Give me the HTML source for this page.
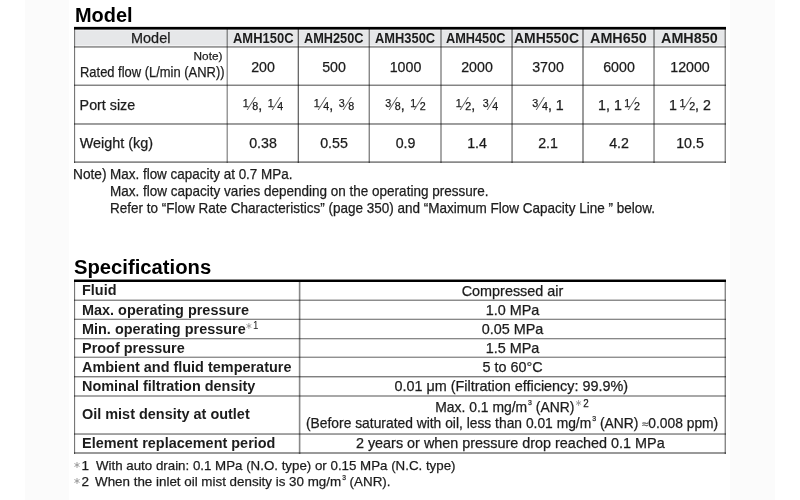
<!DOCTYPE html><html><head><meta charset="utf-8"><style>
*{margin:0;padding:0;box-sizing:border-box}
html,body{width:800px;height:500px;overflow:hidden;background:#fff}
body{position:relative;font-family:"Liberation Sans",sans-serif;color:#1c1c1c;-webkit-text-stroke:0.25px #1c1c1c}
.x{position:absolute;white-space:nowrap;line-height:1}
.b{font-weight:bold;-webkit-text-stroke:0}
.r{position:absolute}
.m{mix-blend-mode:multiply}
.fn{font-size:10.7px;position:relative;top:-3.2px}
.fs{display:inline-block;width:1px;height:12.5px;margin:0 4.7px 0 -2px;background:#555;transform:skewX(-32deg);transform-origin:0 100%}
.fd{font-size:10.7px}
.sp{font-size:10px;position:relative;top:-5px;color:#222;font-weight:normal;margin-left:1.5px}
.sp .ast{margin-right:1.5px;vertical-align:0.5px}
.s3{font-size:0.5em;position:relative;top:-0.95em;margin-left:1px}
.deg{color:#444}
.approx{font-size:0.8em;color:#777}
.ast{display:inline-block}
.fnum .ast{vertical-align:1.8px;margin-right:1px}
</style></head><body>
<div class="r" style="left:25px;top:0;width:44px;height:500px;background:#fbfbfb"></div>
<div class="r" style="left:730px;top:0;width:45px;height:500px;background:#fbfbfb"></div>
<div class="r" style="left:74px;top:29px;width:652px;height:134px;background:#fff"></div>
<div class="r m" style="left:75px;top:29px;width:650px;height:1px;background:#f0f0f0"></div>
<div class="r m" style="left:75px;top:31px;width:650px;height:14px;background:#e6e7e9"></div>
<div class="r m" style="left:75px;top:30px;width:650px;height:1px;background:#eeeef0"></div>
<div class="r m" style="left:75px;top:45px;width:650px;height:1px;background:#f2f2f3"></div>
<div class="r m" style="left:74px;top:46px;width:652px;height:1px;background:#9a9a9a"></div>
<div class="r m" style="left:74px;top:47px;width:652px;height:1px;background:#acacac"></div>
<div class="r m" style="left:74px;top:84px;width:652px;height:1px;background:#c4c4c4"></div>
<div class="r m" style="left:74px;top:85px;width:652px;height:1px;background:#848484"></div>
<div class="r m" style="left:74px;top:123px;width:652px;height:1px;background:#9c9c9c"></div>
<div class="r m" style="left:74px;top:124px;width:652px;height:1px;background:#a0a0a0"></div>
<div class="r m" style="left:74px;top:161px;width:652px;height:1px;background:#a8a8a8"></div>
<div class="r m" style="left:74px;top:162px;width:652px;height:1px;background:#8a8a8a"></div>
<div class="r m" style="left:74px;top:29px;width:1px;height:134px;background:#777777"></div>
<div class="r m" style="left:75px;top:29px;width:1px;height:134px;background:#eeeeee"></div>
<div class="r m" style="left:226px;top:29px;width:1px;height:134px;background:#cccccc"></div>
<div class="r m" style="left:227px;top:29px;width:1px;height:134px;background:#999999"></div>
<div class="r m" style="left:297px;top:29px;width:1px;height:134px;background:#cccccc"></div>
<div class="r m" style="left:298px;top:29px;width:1px;height:134px;background:#6a6a6a"></div>
<div class="r m" style="left:368px;top:29px;width:1px;height:134px;background:#cccccc"></div>
<div class="r m" style="left:369px;top:29px;width:1px;height:134px;background:#888888"></div>
<div class="r m" style="left:440px;top:29px;width:1px;height:134px;background:#a8a8a8"></div>
<div class="r m" style="left:441px;top:29px;width:1px;height:134px;background:#a8a8a8"></div>
<div class="r m" style="left:511px;top:29px;width:1px;height:134px;background:#aaaaaa"></div>
<div class="r m" style="left:512px;top:29px;width:1px;height:134px;background:#999999"></div>
<div class="r m" style="left:582px;top:29px;width:1px;height:134px;background:#9c9c9c"></div>
<div class="r m" style="left:583px;top:29px;width:1px;height:134px;background:#9c9c9c"></div>
<div class="r m" style="left:653px;top:29px;width:1px;height:134px;background:#a8a8a8"></div>
<div class="r m" style="left:654px;top:29px;width:1px;height:134px;background:#a0a0a0"></div>
<div class="r m" style="left:724px;top:29px;width:1px;height:134px;background:#cccccc"></div>
<div class="r m" style="left:725px;top:29px;width:1px;height:134px;background:#888888"></div>
<div class="r m" style="left:74px;top:26px;width:652px;height:1px;background:#e0e0e0"></div>
<div class="r m" style="left:74px;top:27px;width:652px;height:2px;background:#000"></div>
<div class="r m" style="left:74px;top:29px;width:652px;height:1px;background:#6a6a6a"></div>
<div class="r" style="left:74px;top:282px;width:652px;height:172px;background:#fff"></div>
<div class="r m" style="left:74px;top:299px;width:652px;height:1px;background:#c8c8c8"></div>
<div class="r m" style="left:74px;top:300px;width:652px;height:1px;background:#8c8c8c"></div>
<div class="r m" style="left:74px;top:318px;width:652px;height:1px;background:#d8d8d8"></div>
<div class="r m" style="left:74px;top:319px;width:652px;height:1px;background:#888888"></div>
<div class="r m" style="left:74px;top:338px;width:652px;height:1px;background:#888888"></div>
<div class="r m" style="left:74px;top:339px;width:652px;height:1px;background:#d8d8d8"></div>
<div class="r m" style="left:74px;top:356px;width:652px;height:1px;background:#d0d0d0"></div>
<div class="r m" style="left:74px;top:357px;width:652px;height:1px;background:#909090"></div>
<div class="r m" style="left:74px;top:376px;width:652px;height:1px;background:#808080"></div>
<div class="r m" style="left:74px;top:377px;width:652px;height:1px;background:#c8c8c8"></div>
<div class="r m" style="left:74px;top:395px;width:652px;height:1px;background:#a8a8a8"></div>
<div class="r m" style="left:74px;top:396px;width:652px;height:1px;background:#a8a8a8"></div>
<div class="r m" style="left:74px;top:433px;width:652px;height:1px;background:#a8a8a8"></div>
<div class="r m" style="left:74px;top:434px;width:652px;height:1px;background:#a0a0a0"></div>
<div class="r m" style="left:74px;top:452px;width:652px;height:1px;background:#999999"></div>
<div class="r m" style="left:74px;top:453px;width:652px;height:1px;background:#999999"></div>
<div class="r m" style="left:74px;top:282px;width:1px;height:172px;background:#777777"></div>
<div class="r m" style="left:75px;top:282px;width:1px;height:172px;background:#eeeeee"></div>
<div class="r m" style="left:298px;top:282px;width:1px;height:172px;background:#e8e8e8"></div>
<div class="r m" style="left:299px;top:282px;width:1px;height:172px;background:#888888"></div>
<div class="r m" style="left:300px;top:282px;width:1px;height:172px;background:#cccccc"></div>
<div class="r m" style="left:724px;top:282px;width:1px;height:172px;background:#cccccc"></div>
<div class="r m" style="left:725px;top:282px;width:1px;height:172px;background:#888888"></div>
<div class="r m" style="left:74px;top:279px;width:652px;height:1px;background:#888888"></div>
<div class="r m" style="left:74px;top:280px;width:652px;height:2px;background:#000"></div>
<div class="x b" id="e0" style="top:5.60px;font-size:19.6px;color:#000;left:74.60px;transform:scaleX(1.0175);transform-origin:0 0;">Model</div>
<div class="x b" id="e1" style="top:257.50px;font-size:19.6px;color:#000;left:74.20px;transform:scaleX(1.0328);transform-origin:0 0;">Specifications</div>
<div class="x" id="e2" style="top:30.55px;font-size:14.5px;left:130.60px;transform:scaleX(0.9975);transform-origin:0 0;">Model</div>
<div class="x b" id="e3" style="top:30.55px;font-size:14.3px;left:233.00px;transform:scaleX(0.9064);transform-origin:0 0;">AMH150C</div>
<div class="x b" id="e4" style="top:30.55px;font-size:14.3px;left:304.30px;transform:scaleX(0.8914);transform-origin:0 0;">AMH250C</div>
<div class="x b" id="e5" style="top:30.55px;font-size:14.3px;left:375.00px;transform:scaleX(0.9004);transform-origin:0 0;">AMH350C</div>
<div class="x b" id="e6" style="top:30.55px;font-size:14.3px;left:446.30px;transform:scaleX(0.8914);transform-origin:0 0;">AMH450C</div>
<div class="x b" id="e7" style="top:30.55px;font-size:14.3px;left:514.40px;transform:scaleX(0.9753);transform-origin:0 0;">AMH550C</div>
<div class="x b" id="e8" style="top:30.55px;font-size:14.3px;left:589.50px;transform:scaleX(1.0049);transform-origin:0 0;">AMH650</div>
<div class="x b" id="e9" style="top:30.55px;font-size:14.3px;left:660.80px;transform:scaleX(1.0049);transform-origin:0 0;">AMH850</div>
<div class="x" id="e10" style="top:50.70px;font-size:11.8px;right:577.60px;">Note)</div>
<div class="x" id="e11" style="top:65.40px;font-size:14.2px;left:79.50px;transform:scaleX(0.9119);transform-origin:0 0;">Rated flow (L/min (ANR))</div>
<div class="x" id="e12" style="top:59.60px;font-size:14.2px;left:63.00px;width:400px;text-align:center;">200</div>
<div class="x" id="e13" style="top:59.60px;font-size:14.2px;left:134.00px;width:400px;text-align:center;">500</div>
<div class="x" id="e14" style="top:59.60px;font-size:14.2px;left:205.50px;width:400px;text-align:center;">1000</div>
<div class="x" id="e15" style="top:59.60px;font-size:14.2px;left:277.00px;width:400px;text-align:center;">2000</div>
<div class="x" id="e16" style="top:59.60px;font-size:14.2px;left:348.00px;width:400px;text-align:center;">3700</div>
<div class="x" id="e17" style="top:59.60px;font-size:14.2px;left:419.00px;width:400px;text-align:center;">6000</div>
<div class="x" id="e18" style="top:59.60px;font-size:14.2px;left:490.00px;width:400px;text-align:center;">12000</div>
<div class="x" id="e19" style="top:97.65px;font-size:14.3px;left:79.60px;">Port size</div>
<div class="x" id="e20" style="top:97.30px;font-size:14.2px;left:63.00px;width:400px;text-align:center;"><span class="fn">1</span><span class="fs"></span><span class="fd">8</span>, <span class="fn" style="margin-left:1.5px">1</span><span class="fs"></span><span class="fd">4</span></div>
<div class="x" id="e21" style="top:97.30px;font-size:14.2px;left:134.00px;width:400px;text-align:center;"><span class="fn">1</span><span class="fs"></span><span class="fd">4</span>, <span class="fn" style="margin-left:1.5px">3</span><span class="fs"></span><span class="fd">8</span></div>
<div class="x" id="e22" style="top:97.30px;font-size:14.2px;left:205.50px;width:400px;text-align:center;"><span class="fn">3</span><span class="fs"></span><span class="fd">8</span>, <span class="fn" style="margin-left:1.5px">1</span><span class="fs"></span><span class="fd">2</span></div>
<div class="x" id="e23" style="top:97.30px;font-size:14.2px;left:277.00px;width:400px;text-align:center;"><span class="fn">1</span><span class="fs"></span><span class="fd">2</span>, <span class="fn" style="margin-left:3.5px">3</span><span class="fs"></span><span class="fd">4</span></div>
<div class="x" id="e24" style="top:97.30px;font-size:14.2px;left:348.00px;width:400px;text-align:center;"><span class="fn">3</span><span class="fs"></span><span class="fd">4</span>, 1</div>
<div class="x" id="e25" style="top:97.30px;font-size:14.2px;left:419.00px;width:400px;text-align:center;">1, 1<span class="fn" style="margin-left:2.5px">1</span><span class="fs"></span><span class="fd">2</span></div>
<div class="x" id="e26" style="top:97.30px;font-size:14.2px;left:490.00px;width:400px;text-align:center;">1<span class="fn" style="margin-left:2.5px">1</span><span class="fs"></span><span class="fd">2</span>, 2</div>
<div class="x" id="e27" style="top:135.90px;font-size:14.4px;left:79.80px;">Weight (kg)</div>
<div class="x" id="e28" style="top:136.30px;font-size:14.2px;left:63.00px;width:400px;text-align:center;">0.38</div>
<div class="x" id="e29" style="top:136.30px;font-size:14.2px;left:134.00px;width:400px;text-align:center;">0.55</div>
<div class="x" id="e30" style="top:136.30px;font-size:14.2px;left:205.50px;width:400px;text-align:center;">0.9</div>
<div class="x" id="e31" style="top:136.30px;font-size:14.2px;left:277.00px;width:400px;text-align:center;">1.4</div>
<div class="x" id="e32" style="top:136.30px;font-size:14.2px;left:348.00px;width:400px;text-align:center;">2.1</div>
<div class="x" id="e33" style="top:136.30px;font-size:14.2px;left:419.00px;width:400px;text-align:center;">4.2</div>
<div class="x" id="e34" style="top:136.30px;font-size:14.2px;left:490.00px;width:400px;text-align:center;">10.5</div>
<div class="x" id="e35" style="top:167.00px;font-size:14.2px;left:72.80px;transform:scaleX(0.9653);transform-origin:0 0;">Note)</div>
<div class="x" id="e36" style="top:167.00px;font-size:14.2px;left:109.50px;transform:scaleX(0.9485);transform-origin:0 0;">Max. flow capacity at 0.7 MPa.</div>
<div class="x" id="e37" style="top:184.20px;font-size:14.2px;left:109.50px;transform:scaleX(0.9522);transform-origin:0 0;">Max. flow capacity varies depending on the operating pressure.</div>
<div class="x" id="e38" style="top:201.30px;font-size:14.2px;left:109.50px;transform:scaleX(0.9520);transform-origin:0 0;">Refer to &#8220;Flow Rate Characteristics&#8221; (page 350) and &#8220;Maximum Flow Capacity Line &#8221; below.</div>
<div class="x b" id="e39" style="top:283.20px;font-size:14.8px;left:81.90px;transform:scaleX(0.976);transform-origin:0 0;">Fluid</div>
<div class="x" id="e40" style="top:284.20px;font-size:14.4px;left:312.50px;width:400px;text-align:center;">Compressed air</div>
<div class="x b" id="e41" style="top:303.30px;font-size:14.8px;left:81.90px;transform:scaleX(0.976);transform-origin:0 0;">Max. operating pressure</div>
<div class="x" id="e42" style="top:303.20px;font-size:14.4px;left:312.50px;width:400px;text-align:center;">1.0 MPa</div>
<div class="x b" id="e43" style="top:322.30px;font-size:14.8px;left:81.90px;transform:scaleX(0.976);transform-origin:0 0;">Min. operating pressure<span class="sp" style="margin-left:0"><svg class="ast" width="6" height="6" viewBox="0 0 12 12"><path d="M6 0.8V11.2M1.5 3.4L10.5 8.6M10.5 3.4L1.5 8.6" stroke="#959595" stroke-width="1.8" stroke-linecap="round"/></svg>1</span></div>
<div class="x" id="e44" style="top:322.20px;font-size:14.4px;left:312.50px;width:400px;text-align:center;">0.05 MPa</div>
<div class="x b" id="e45" style="top:341.30px;font-size:14.8px;left:81.90px;transform:scaleX(0.976);transform-origin:0 0;">Proof pressure</div>
<div class="x" id="e46" style="top:341.20px;font-size:14.4px;left:312.50px;width:400px;text-align:center;">1.5 MPa</div>
<div class="x b" id="e47" style="top:360.30px;font-size:14.8px;left:81.90px;transform:scaleX(0.976);transform-origin:0 0;">Ambient and fluid temperature</div>
<div class="x" id="e48" style="top:360.20px;font-size:14.4px;left:312.50px;width:400px;text-align:center;">5 to 60<span class="deg">&#176;</span>C</div>
<div class="x b" id="e49" style="top:379.30px;font-size:14.8px;left:81.90px;transform:scaleX(0.976);transform-origin:0 0;">Nominal filtration density</div>
<div class="x" id="e50" style="top:379.20px;font-size:14.4px;left:311.30px;width:400px;text-align:center;">0.01 &#956;m (Filtration efficiency: 99.9%)</div>
<div class="x b" id="e51" style="top:407.30px;font-size:14.8px;left:81.90px;transform:scaleX(0.976);transform-origin:0 0;">Oil mist density at outlet</div>
<div class="x b" id="e52" style="top:436.30px;font-size:14.8px;left:81.90px;transform:scaleX(0.976);transform-origin:0 0;">Element replacement period</div>
<div class="x" id="e53" style="top:436.20px;font-size:14.4px;left:310.30px;width:400px;text-align:center;">2 years or when pressure drop reached 0.1 MPa</div>
<div class="x" id="e54" style="top:399.70px;font-size:14.2px;left:311.70px;width:400px;text-align:center;transform:scaleX(0.979);transform-origin:50% 0;">Max. 0.1 mg/m<span class="s3">3</span> (ANR)<span class="sp"><svg class="ast" width="6" height="6" viewBox="0 0 12 12"><path d="M6 0.8V11.2M1.5 3.4L10.5 8.6M10.5 3.4L1.5 8.6" stroke="#959595" stroke-width="1.8" stroke-linecap="round"/></svg>2</span></div>
<div class="x" id="e55" style="top:415.50px;font-size:14.2px;left:306.30px;transform:scaleX(0.9749);transform-origin:0 0;">(Before saturated with oil, less than 0.01 mg/m<span class="s3">3</span> (ANR) <span class="approx">&#8776;</span>0.008 ppm)</div>
<div class="x fnum" id="e56" style="top:458.55px;font-size:13.5px;left:74.40px;"><svg class="ast" width="6" height="6" viewBox="0 0 12 12"><path d="M6 0.8V11.2M1.5 3.4L10.5 8.6M10.5 3.4L1.5 8.6" stroke="#959595" stroke-width="1.8" stroke-linecap="round"/></svg>1</div>
<div class="x" id="e57" style="top:458.55px;font-size:13.5px;left:95.60px;transform:scaleX(0.9859);transform-origin:0 0;">With auto drain: 0.1 MPa (N.O. type) or 0.15 MPa (N.C. type)</div>
<div class="x fnum" id="e58" style="top:475.05px;font-size:13.5px;left:74.40px;"><svg class="ast" width="6" height="6" viewBox="0 0 12 12"><path d="M6 0.8V11.2M1.5 3.4L10.5 8.6M10.5 3.4L1.5 8.6" stroke="#959595" stroke-width="1.8" stroke-linecap="round"/></svg>2</div>
<div class="x" id="e59" style="top:475.05px;font-size:13.5px;left:95.30px;transform:scaleX(0.9912);transform-origin:0 0;">When the inlet oil mist density is 30 mg/m<span class="s3">3</span> (ANR).</div>
</body></html>
